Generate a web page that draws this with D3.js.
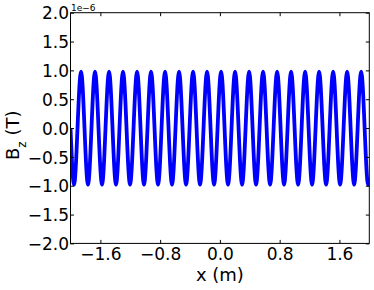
<!DOCTYPE html>
<html>
<head>
<meta charset="utf-8">
<script src="https://cdn.jsdelivr.net/npm/d3@7"></script>
<style>
    body { margin: 0; background: #fff; }
    svg { display: block; font-family: "DejaVu Sans", sans-serif; }
</style>
</head>
<body>
<svg id="chart"></svg>
<script>
// positions (m) of the start, troughs, peaks and end of the wave
const xPos = [
    -2.000, -1.953, -1.859, -1.766, -1.672, -1.578, -1.484, -1.391, -1.297, -1.203,
    -1.109, -1.016, -0.922, -0.828, -0.734, -0.641, -0.547, -0.453, -0.359, -0.266,
    -0.172, -0.078, 0.016, 0.109, 0.203, 0.297, 0.391, 0.484, 0.578, 0.672,
    0.766, 0.859, 0.953, 1.047, 1.141, 1.234, 1.328, 1.422, 1.516, 1.609,
    1.703, 1.797, 1.891, 1.984, 2.000
];
// Bz at those positions, in units of 1e-6 T
const bz = [
    0.00, -0.98, 0.98, -0.98, 0.98, -0.98, 0.98, -0.98, 0.98, -0.98,
    0.98, -0.98, 0.98, -0.98, 0.98, -0.98, 0.98, -0.98, 0.98, -0.98,
    0.98, -0.98, 0.98, -0.98, 0.98, -0.98, 0.98, -0.98, 0.98, -0.98,
    0.98, -0.98, 0.98, -0.98, 0.98, -0.98, 0.98, -0.98, 0.98, -0.98,
    0.98, -0.98, 0.98, -0.98, -0.87
];
const xTicks = [-1.6, -0.8, 0.0, 0.8, 1.6];
const yTicks = [-2.0, -1.5, -1.0, -0.5, 0.0, 0.5, 1.0, 1.5, 2.0];
const offsetLabel = '1e\u22126';

drawChart();

function drawChart() {
    const width = 374;
    const height = 290;
    const left = 70.5, right = 369.3, top = 12.7, bottom = 243.4;
    const tick = 3.5;

    let svg = d3.select('#chart')
        .attr('width', width)
        .attr('height', height)

    let x = d3.scaleLinear().domain([-2, 2]).range([left, right]);
    let y = d3.scaleLinear().domain([-2, 2]).range([bottom, top]);

    svg.append('clipPath')
        .attr('id', 'plotArea')
        .append('rect')
        .attr('x', left)
        .attr('y', top)
        .attr('width', right - left)
        .attr('height', bottom - top)

    let line = d3.line()
        .x(i => x(xPos[i]))
        .y(i => y(bz[i]))
        .curve(d3.curveMonotoneX)

    svg.append('path')
        .attr('clip-path', 'url(#plotArea)')
        .attr('d', line(d3.range(xPos.length)))
        .attr('fill', 'none')
        .attr('stroke', '#0000ff')
        .attr('stroke-width', 3.8)
        .attr('stroke-linejoin', 'round')

    // ticks point inward on all four sides
    let fmt = d3.format('.1f');
    let gx = svg.append('g')
        .attr('transform', `translate(0,${bottom})`)
        .call(d3.axisBottom(x).tickValues(xTicks).tickSize(-tick).tickFormat(fmt))
    let gy = svg.append('g')
        .attr('transform', `translate(${left},0)`)
        .call(d3.axisLeft(y).tickValues(yTicks).tickSize(-tick).tickFormat(fmt))
    svg.append('g')
        .attr('transform', `translate(0,${top})`)
        .call(d3.axisTop(x).tickValues(xTicks).tickSize(-tick).tickFormat(''))
    svg.append('g')
        .attr('transform', `translate(${right},0)`)
        .call(d3.axisRight(y).tickValues(yTicks).tickSize(-tick).tickFormat(''))

    svg.selectAll('.domain').remove();
    svg.selectAll('.tick line').attr('stroke', '#000').attr('stroke-width', 1);

    gx.selectAll('text')
        .attr('y', 16.8)
        .attr('dy', null)
        .attr('font-size', 17)
        .attr('font-family', 'DejaVu Sans')
        .attr('fill', '#000')
    gy.selectAll('text')
        .attr('x', -1.5)
        .attr('dy', '0.36em')
        .attr('font-size', 17)
        .attr('font-family', 'DejaVu Sans')
        .attr('fill', '#000')

    svg.append('rect')
        .attr('x', left)
        .attr('y', top)
        .attr('width', right - left)
        .attr('height', bottom - top)
        .attr('fill', 'none')
        .attr('stroke', '#000')
        .attr('stroke-width', 1)

    svg.append('text')
        .attr('x', left + 0.5)
        .attr('y', 10.8)
        .attr('font-size', 9)
        .text(offsetLabel)

    svg.append('text')
        .attr('x', (left + right) / 2)
        .attr('y', 281)
        .attr('text-anchor', 'middle')
        .attr('font-size', 18)
        .text('x (m)')

    let yl = svg.append('text')
        .attr('transform', 'translate(19,160) rotate(-90)')
        .attr('font-size', 18)
    yl.append('tspan').text('B')
    yl.append('tspan')
        .attr('font-size', 12)
        .attr('dy', 6.5)
        .text('z')
    yl.append('tspan')
        .attr('dy', -6.5)
        .text(' (T)')
}
</script>
</body>
</html>
